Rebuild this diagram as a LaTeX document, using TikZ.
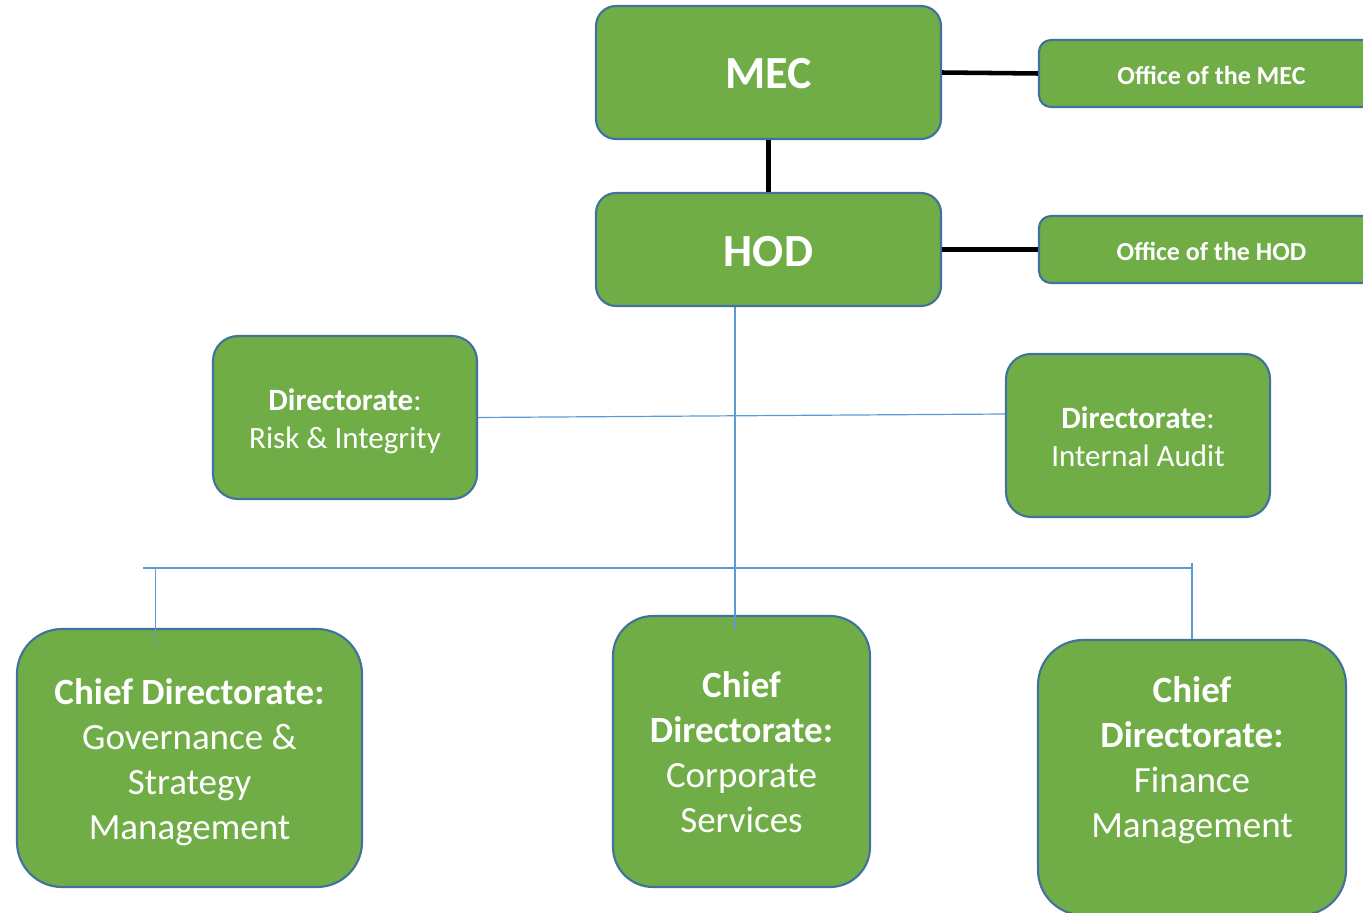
\documentclass[tikz,border=0pt]{standalone}
\usepackage{fontspec}
\setmainfont{Carlito}
\usetikzlibrary{calc}
\definecolor{boxgreen}{RGB}{112,173,71}
\definecolor{boxblue}{RGB}{65,113,156}
\definecolor{linkblue}{RGB}{91,155,213}
\tikzset{every picture/.style={line width=0.75pt}}
\tikzset{
  orgbox/.style={draw=boxblue, fill=boxgreen, line width=1.6pt, inner sep=0pt},
  boxtext/.style={text=white, inner sep=0pt, align=center},
  toplink/.style={draw=black, line width=3.4pt},
  orglink/.style={draw=linkblue, line width=0.9pt}
}

\begin{document}
\begin{tikzpicture}[x=0.75pt,y=0.75pt,yscale=-1,xscale=1]
\useasboundingbox (0,0) rectangle (1363,913);

% Text Node
\node [orgbox, rounded corners=15pt, minimum width=258.75pt, minimum height=99.75pt] (mec) at (768.5,72.5) {};
\node [boxtext, font=\fontsize{34.5}{41}\selectfont\bfseries] (mectext) at ($(mec.center)+(0,1)$) {MEC};
% Text Node
\node [orgbox, rounded corners=9pt, minimum width=258.75pt, minimum height=50.25pt] (offmec) at (1211.5,73.5) {};
\node [boxtext, font=\fontsize{19.5}{24}\selectfont\bfseries] (offmectext) at ($(offmec.center)+(0,2)$) {Office of the MEC};
% Text Node
\node [orgbox, rounded corners=15pt, minimum width=258.75pt, minimum height=84.75pt] (hod) at (768.5,249.5) {};
\node [boxtext, font=\fontsize{34.5}{41}\selectfont\bfseries] (hodtext) at ($(hod.center)+(0,2)$) {HOD};
% Text Node
\node [orgbox, rounded corners=9pt, minimum width=258.75pt, minimum height=50.25pt] (offhod) at (1211.5,249.5) {};
\node [boxtext, font=\fontsize{19.5}{24}\selectfont\bfseries] (offhodtext) at ($(offhod.center)+(0,2)$) {Office of the HOD};
% Text Node
\node [orgbox, rounded corners=18.75pt, minimum width=198pt, minimum height=122.25pt] (risk) at (345,417.5) {};
\node [boxtext, font=\fontsize{23.25}{28.5}\selectfont] (risktext) at ($(risk.center)+(0,4)$) {\textbf{Directorate}:\\Risk \& Integrity};
% Text Node
\node [orgbox, rounded corners=18.75pt, minimum width=198pt, minimum height=122.25pt] (audit) at (1138,435.5) {};
\node [boxtext, font=\fontsize{23.25}{28.5}\selectfont] (audittext) at ($(audit.center)+(0,1)$) {\textbf{Directorate}:\\Internal Audit};
% Text Node
\node [orgbox, rounded corners=33.75pt, minimum width=258.75pt, minimum height=193.5pt] (gov) at (189.5,758) {};
\node [boxtext, font=\fontsize{27.75}{33.75}\selectfont] (govtext) at ($(gov.center)+(0,4)$) {\textbf{Chief Directorate:}\\Governance \&\\Strategy\\Management};
% Text Node
\node [orgbox, rounded corners=30pt, minimum width=192.75pt, minimum height=203.25pt] (corp) at (741.5,751.5) {};
\node [boxtext, font=\fontsize{27.75}{33.75}\selectfont] (corptext) at ($(corp.center)+(0,1)$) {\textbf{Chief}\\\textbf{Directorate:}\\Corporate\\Services};
% Text Node
\node [orgbox, rounded corners=33.75pt, minimum width=231pt, minimum height=206.25pt] (fin) at (1192,777.5) {};
\node [boxtext, font=\fontsize{27.75}{33.75}\selectfont] (fintext) at ($(fin.center)+(0,-17)$) {\textbf{Chief}\\\textbf{Directorate:}\\Finance\\Management};

% Connection
\draw [toplink] (mec.east) -- (offmec.west) ;
% Connection
\draw [toplink] (mec.south) -- (hod.north) ;
% Connection
\draw [toplink] (hod.east) -- (offhod.west) ;
% Connection
\draw [orglink] ($(hod.south)+(-33.5,0)$) -- ($(corp.north)+(-6.5,14)$) ;
% Connection
\draw [orglink] (risk.east) -- ($(audit.west)+(0,-21.5)$) ;
% Connection
\coordinate (barL) at (143,568);
\coordinate (barR) at (1192,568);
\draw [orglink] (barL) -- (barR) ;
\draw [orglink] ($(barL)+(12.5,0)$) -- ($(gov.north)+(-34,18)$) ;
\draw [orglink] ($(barR)+(0,-5)$) -- (fin.north) ;

\end{tikzpicture}
\end{document}
